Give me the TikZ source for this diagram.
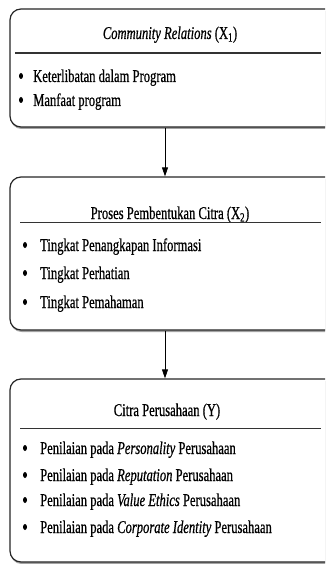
\documentclass[tikz,border=0pt]{standalone}
\usepackage{fontspec}
\setmainfont{Liberation Serif}[FakeStretch=0.70, FakeBold=0.6]
\usetikzlibrary{shadows,arrows.meta,shapes.geometric}
\begin{document}
\begin{tikzpicture}[x=1pt,y=-1pt,
  box/.style={draw=black!85, line width=1.2pt, rounded corners=11pt, fill=white,
     drop shadow={shadow xshift=0.6pt, shadow yshift=-2pt, fill=black!45, opacity=0.8}},
  rulel/.style={draw=black!80, line width=1.6pt},
  arr/.style={draw=black, line width=0.8pt, -{Stealth[length=9pt,width=6pt,inset=0pt]}},
  ttl/.style={font=\fontsize{18}{20}\selectfont, anchor=base, inner sep=0pt},
  itm/.style={font=\fontsize{18}{20}\selectfont, anchor=base west, inner sep=0pt},
  bul/.style={ellipse, fill=black, draw=none, minimum width=4pt, minimum height=6pt, inner sep=0pt}]
\useasboundingbox (0,0) rectangle (325,564);
\clip (0,0) rectangle (325,564);
% boxes
\node[box, minimum width=326pt, minimum height=118pt, inner sep=0pt] (b1) at (173,68) {};
\node[box, minimum width=326pt, minimum height=153pt, inner sep=0pt] (b2) at (173,253.5) {};
\node[box, minimum width=326pt, minimum height=183pt, inner sep=0pt] (b3) at (173,470.5) {};
% arrows
\coordinate (ax) at (165,0);
\draw[arr] (b1.south -| ax) -- (b2.north -| ax);
\draw[arr] (b2.south -| ax) -- (b3.north -| ax);
% box 1
\node[ttl] (t1) at (170,39) {\textit{Community Relations} (X\textsubscript{1})};
\coordinate (r1a) at (15,53); \coordinate (r1b) at (321,53);
\draw[rulel] (r1a) -- (r1b);
\node[bul] (p11) at (21,76) {};
\node[itm] (i11) at (33,82) {Keterlibatan dalam Program};
\node[bul] (p12) at (21,100) {};
\node[itm] (i12) at (33,106) {Manfaat program};
% box 2
\node[ttl] (t2) at (170,219) {Proses Pembentukan Citra (X\textsubscript{2})};
\coordinate (r2a) at (20,222.5); \coordinate (r2b) at (321,222.5);
\draw[rulel] (r2a) -- (r2b);
\node[bul] (p21) at (25,245) {};
\node[itm] (i21) at (40,251) {Tingkat Penangkapan Informasi};
\node[bul] (p22) at (25,273) {};
\node[itm] (i22) at (40,279) {Tingkat Perhatian};
\node[bul] (p23) at (25,302) {};
\node[itm] (i23) at (40,308) {Tingkat Pemahaman};
% box 3
\node[ttl] (t3) at (167,416) {Citra Perusahaan (Y)};
\coordinate (r3a) at (20,428.5); \coordinate (r3b) at (321,428.5);
\draw[rulel] (r3a) -- (r3b);
\node[bul] (p31) at (25,448) {};
\node[itm] (i31) at (40,454) {Penilaian pada \textit{Personality} Perusahaan};
\node[bul] (p32) at (25,475) {};
\node[itm] (i32) at (40,481) {Penilaian pada \textit{Reputation} Perusahaan};
\node[bul] (p33) at (25,500) {};
\node[itm] (i33) at (40,506) {Penilaian pada \textit{Value Ethics} Perusahaan};
\node[bul] (p34) at (25,527) {};
\node[itm] (i34) at (40,533) {Penilaian pada \textit{Corporate Identity} Perusahaan};
\end{tikzpicture}
\end{document}
